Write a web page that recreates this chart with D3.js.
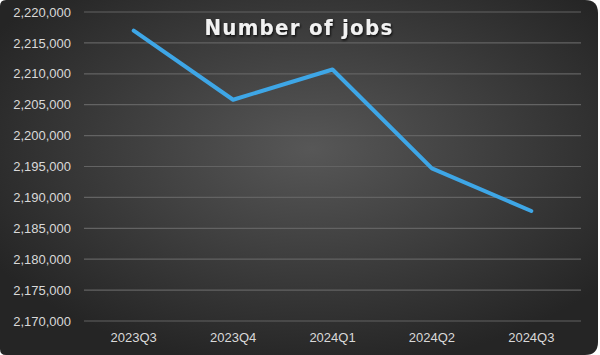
<!DOCTYPE html>
<html>
<head>
<meta charset="utf-8">
<script src="https://cdn.jsdelivr.net/npm/d3@7"></script>
<style>
  body { margin: 0; background: #fff; }
  svg { display: block; }
</style>
</head>
<body>
<svg></svg>
<script>
// data
var quarters = ["2023Q3", "2023Q4", "2024Q1", "2024Q2", "2024Q3"];
var jobs = [2217000, 2205800, 2210700, 2194700, 2187800];
var yTicks = [2170000, 2175000, 2180000, 2185000, 2190000, 2195000,
              2200000, 2205000, 2210000, 2215000, 2220000];

var width = 600, height = 355;
var svg = d3.select("svg").attr("width", width).attr("height", height);

// background: dark radial gradient, rounded card
var defs = svg.append("defs");
var grad = defs.append("radialGradient")
  .attr("id", "bg")
  .attr("cx", "52%").attr("cy", "42%").attr("r", "62%");
grad.append("stop").attr("offset", "0%").attr("stop-color", "#575757");
grad.append("stop").attr("offset", "100%").attr("stop-color", "#252525");

var shadow = defs.append("filter").attr("id", "shadow")
  .attr("x", "-10%").attr("y", "-30%").attr("width", "120%").attr("height", "160%");
shadow.append("feDropShadow").attr("dx", 1).attr("dy", 1.5)
  .attr("stdDeviation", 1.2).attr("flood-color", "#000").attr("flood-opacity", 0.8);

var rl = 6, rr = 13, W = 598;
var p = d3.path();
p.moveTo(rl, 0);
p.lineTo(W - rr, 0);
p.quadraticCurveTo(W, 0, W, rr);
p.lineTo(W, height - rr);
p.quadraticCurveTo(W, height, W - rr, height);
p.lineTo(rl, height);
p.quadraticCurveTo(0, height, 0, height - rl);
p.lineTo(0, rl);
p.quadraticCurveTo(0, 0, rl, 0);
p.closePath();
svg.append("path").attr("d", p.toString()).attr("fill", "url(#bg)");

// scales
var x = d3.scaleBand().domain(quarters).range([84, 581]);
var y = d3.scaleLinear().domain([2170000, 2220000]).range([321, 12]);

// gridlines
svg.append("g").selectAll("line")
  .data(yTicks)
  .enter()
  .append("line")
  .attr("x1", 84).attr("x2", 581)
  .attr("y1", function (d) { return y(d); })
  .attr("y2", function (d) { return y(d); })
  .attr("stroke", "#636363")
  .attr("stroke-width", 1.2);

// y axis labels
var yAxis = svg.append("g")
  .attr("transform", "translate(71,0)")
  .call(d3.axisLeft(y).tickValues(yTicks).tickSize(0).tickPadding(0)
    .tickFormat(d3.format(",")));
yAxis.select(".domain").remove();
yAxis.selectAll("text")
  .attr("fill", "#d9d9d9")
  .attr("font-family", "Liberation Sans, Arial, sans-serif")
  .attr("font-size", "13px");

// x axis labels
var xAxis = svg.append("g")
  .attr("transform", "translate(0,333)")
  .call(d3.axisBottom(x).tickSize(0).tickPadding(0));
xAxis.select(".domain").remove();
xAxis.selectAll("text")
  .attr("fill", "#d9d9d9")
  .attr("font-family", "Liberation Sans, Arial, sans-serif")
  .attr("font-size", "13px");

// the line
var line = d3.line()
  .x(function (d, i) { return x(quarters[i]) + x.bandwidth() / 2; })
  .y(function (d) { return y(d); });

svg.append("path")
  .datum(jobs)
  .attr("d", line)
  .attr("fill", "none")
  .attr("stroke", "#3ea6e6")
  .attr("stroke-width", 4)
  .attr("stroke-linejoin", "round")
  .attr("stroke-linecap", "round");

// title
svg.append("text")
  .attr("x", 299)
  .attr("y", 35)
  .attr("text-anchor", "middle")
  .attr("font-family", "DejaVu Sans Condensed, Liberation Sans Narrow, sans-serif")
  .attr("font-weight", "bold")
  .attr("font-size", "22px")
  .attr("letter-spacing", "1.3px")
  .attr("fill", "#f2f2f2")
  .attr("filter", "url(#shadow)")
  .text("Number of jobs");
</script>
</body>
</html>
